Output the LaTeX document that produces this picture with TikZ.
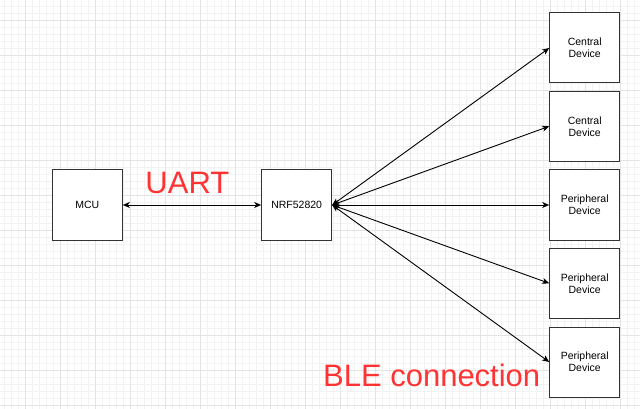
\documentclass[tikz,border=0pt]{standalone}
\usepackage{fontspec}
\setmainfont{Liberation Sans}
\usetikzlibrary{arrows.meta}
\definecolor{gridminor}{HTML}{F2F2F2}
\definecolor{gridmajor}{HTML}{E3E3E3}
\definecolor{boxline}{HTML}{333333}
\definecolor{labelred}{HTML}{FF3333}
\tikzset{
  blockbox/.style={draw=boxline, line width=1pt, fill=white, minimum width=70pt, minimum height=70pt, inner sep=0pt, align=center, text width=66pt, font=\fontsize{10.5}{12}\selectfont},
  bigred/.style={text=labelred, inner sep=0pt, font=\fontsize{31}{36}\selectfont},
  link/.style={line width=0.9pt, {Stealth[length=7pt,width=6pt,inset=2pt]}-{Stealth[length=7pt,width=6pt,inset=2pt]}}
}
\begin{document}
\begin{tikzpicture}[x=1pt,y=-1pt]
\useasboundingbox (0,0) rectangle (640,409);
\fill[white] (0,0) rectangle (640,409);
\foreach \k in {0,...,90} \draw[gridminor, line width=0.8pt] (4.7+7*\k,0) -- (4.7+7*\k,409);
\foreach \k in {0,...,57} \draw[gridminor, line width=0.8pt] (0,6.7+7*\k) -- (640,6.7+7*\k);
\foreach \k in {0,...,17} \draw[gridmajor, line width=0.8pt] (25.7+35*\k,0) -- (25.7+35*\k,409);
\foreach \k in {0,...,11} \draw[gridmajor, line width=0.8pt] (0,20.7+35*\k) -- (640,20.7+35*\k);

\node[blockbox] (mcu) at (87.3,205) {MCU};
\node[blockbox] (nrf) at (296.7,205) {NRF52820};
\node[blockbox] (c1) at (584.7,48) {Central\\Device};
\node[blockbox] (c2) at (584.7,126.3) {Central\\Device};
\node[blockbox] (p1) at (584.7,205) {Peripheral\\Device};
\node[blockbox] (p2) at (584.7,283.3) {Peripheral\\Device};
\node[blockbox] (p3) at (584.7,362) {Peripheral\\Device};

\draw[link] (mcu.east) -- (nrf.west);
\draw[link] (nrf.east) -- (c1.west);
\draw[link] (nrf.east) -- (c2.west);
\draw[link] (nrf.east) -- (p1.west);
\draw[link] (nrf.east) -- (p2.west);
\draw[link] (nrf.east) -- (p3.west);

\node[bigred] (uart) at (187.4,183.4) {UART};
\node[bigred] (ble) at (431.7,375.5) {BLE connection};
\end{tikzpicture}
\end{document}
